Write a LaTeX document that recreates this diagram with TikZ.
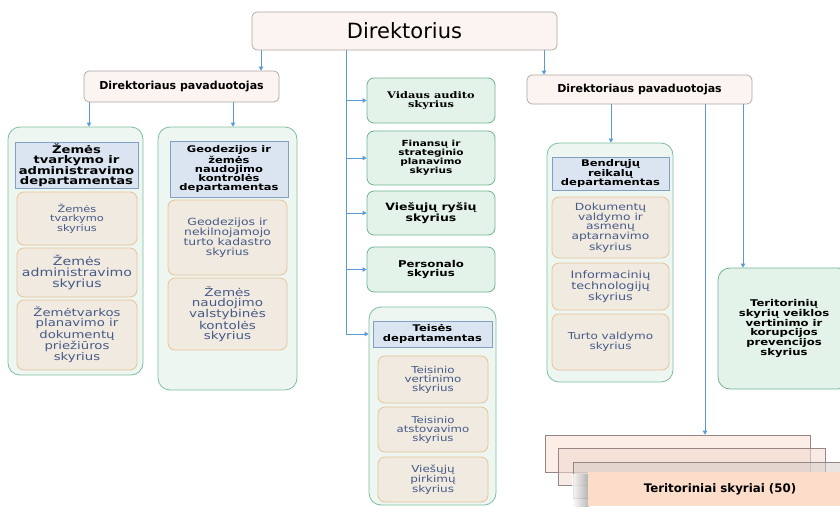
\documentclass[tikz,border=0pt]{standalone}
\usepackage{tikz}
\usetikzlibrary{arrows.meta}
\usepackage{xcolor}
\usepackage{fontspec}
\setmainfont{DejaVu Sans}
\newfontfamily\boxsans[FakeStretch=1.25]{DejaVu Sans}
\newfontfamily\boxserif[FakeStretch=1.25]{DejaVu Serif}
\newcommand{\boxsize}[2]{\fontsize{#1}{#2}\selectfont}
\definecolor{chieffill}{RGB}{252,244,240}
\definecolor{chiefdraw}{RGB}{175,165,165}
\definecolor{unitfill}{RGB}{228,243,234}
\definecolor{unitdraw}{RGB}{110,180,145}
\definecolor{deptfill}{RGB}{237,246,240}
\definecolor{deptdraw}{RGB}{125,190,160}
\definecolor{headfill}{RGB}{218,229,241}
\definecolor{headdraw}{RGB}{130,160,195}
\definecolor{secfill}{RGB}{241,234,224}
\definecolor{secdraw}{RGB}{230,195,150}
\definecolor{sectext}{RGB}{70,90,135}
\definecolor{arrowblue}{RGB}{91,155,213}
\definecolor{stkfillA}{RGB}{249,222,210}
\definecolor{stkfillB}{RGB}{243,216,205}
\definecolor{stkfillC}{RGB}{215,205,200}
\definecolor{stkdraw}{RGB}{150,135,135}
\definecolor{stkfront}{RGB}{251,221,201}

\begin{document}
\begin{tikzpicture}[x=1pt, y=-1pt,
  chief/.style={draw=chiefdraw, fill=chieffill, line width=0.7pt, rounded corners=5pt, inner sep=1pt},
  unit/.style={draw=unitdraw, fill=unitfill, line width=0.8pt, rounded corners=7pt, inner sep=1pt, align=center},
  dept/.style={draw=deptdraw, fill=deptfill, line width=0.8pt, rounded corners=12pt, inner sep=0pt},
  depthead/.style={draw=headdraw, fill=headfill, line width=0.8pt, inner sep=1pt, align=center},
  section/.style={draw=secdraw, fill=secfill, line width=0.8pt, rounded corners=7pt, inner sep=1pt, align=center, text=sectext},
  stack/.style={draw=stkdraw, line width=0.6pt, fill opacity=0.55, inner sep=0pt},
  arr/.style={draw=arrowblue, line width=0.8pt, -{Triangle[length=4pt,width=4.5pt]}}
]
  \clip (0,0) rectangle (840,506);

  % Vadovybe
  \node[chief, minimum width=305, minimum height=38, font=\boxsize{21}{24}] (dir) at (404.5,31) {Direktorius};
  \node[chief, minimum width=195, minimum height=31, font=\bfseries\boxsize{11}{13}] (pav1) at (181.5,86.5) {Direktoriaus pavaduotojas};
  \node[chief, minimum width=225, minimum height=29, font=\bfseries\boxsize{11}{13}] (pav2) at (639.5,89.5) {Direktoriaus pavaduotojas};

  % Skyriai prie direktoriaus
  \node[unit, minimum width=128, minimum height=45, font=\boxserif\bfseries\boxsize{9.1}{9}] (audit) at (431,100.5)
    {Vidaus audito\\skyrius};
  \node[unit, minimum width=128, minimum height=54, font=\boxsans\bfseries\boxsize{8.4}{8}] (fin) at (431,158)
    {Finansų ir\\strateginio\\planavimo\\skyrius};
  \node[unit, minimum width=128, minimum height=44, font=\boxsans\bfseries\boxsize{10}{9}] (rys) at (431,213)
    {Viešųjų ryšių\\skyrius};
  \node[unit, minimum width=128, minimum height=45, font=\boxsans\bfseries\boxsize{9.4}{9}] (pers) at (431,269.5)
    {Personalo\\skyrius};

  % Teises departamentas
  \node[dept, minimum width=127, minimum height=198] (teis) at (432.5,406) {};
  \node[depthead, minimum width=119, minimum height=26, font=\boxsans\bfseries\boxsize{9.2}{9.3}] (teisH) at (432.5,334)
    {Teisės\\departamentas};
  \node[section, minimum width=110, minimum height=47, font=\boxsans\boxsize{9.5}{9}] (teis1) at (433,379.5)
    {Teisinio\\vertinimo\\skyrius};
  \node[section, minimum width=110, minimum height=45, font=\boxsans\boxsize{9.4}{9}] (teis2) at (433,429.5)
    {Teisinio\\atstovavimo\\skyrius};
  \node[section, minimum width=110, minimum height=45, font=\boxsans\boxsize{9.6}{8.5}] (teis3) at (433,479.5)
    {Viešųjų\\pirkimų\\skyrius};

  % Zemes tvarkymo ir administravimo departamentas
  \node[dept, minimum width=135, minimum height=248] (zem) at (75.5,251) {};
  \node[depthead, minimum width=123, minimum height=46, font=\boxsans\bfseries\boxsize{10.5}{10}] (zemH) at (76.5,165)
    {Žemės\\tvarkymo ir\\administravimo\\departamentas};
  \node[section, minimum width=120, minimum height=53, font=\boxsans\boxsize{9.1}{9.5}] (zem1) at (77,218.5)
    {Žemės\\tvarkymo\\skyrius};
  \node[section, minimum width=120, minimum height=49, font=\boxsans\boxsize{11.3}{11}] (zem2) at (77,272.5)
    {Žemės\\administravimo\\skyrius};
  \node[section, minimum width=120, minimum height=70, font=\boxsans\boxsize{10.6}{10}] (zem3) at (77,335)
    {Žemėtvarkos\\planavimo ir\\dokumentų\\priežiūros\\skyrius};

  % Geodezijos ir zemes naudojimo kontroles departamentas
  \node[dept, minimum width=139, minimum height=263] (geo) at (227.5,258.5) {};
  \node[depthead, minimum width=118, minimum height=56, font=\boxsans\bfseries\boxsize{9.2}{9}] (geoH) at (229,169)
    {Geodezijos ir\\žemės\\naudojimo\\kontrolės\\departamentas};
  \node[section, minimum width=119, minimum height=75, font=\boxsans\boxsize{9.9}{10}] (geo1) at (227.5,237.5)
    {Geodezijos ir\\nekilnojamojo\\turto kadastro\\skyrius};
  \node[section, minimum width=119, minimum height=72, font=\boxsans\boxsize{10.8}{10}] (geo2) at (227.5,314)
    {Žemės\\naudojimo\\valstybinės\\kontolės\\skyrius};

  % Bendruju reikalu departamentas
  \node[dept, minimum width=126, minimum height=239] (bend) at (610,262.5) {};
  \node[depthead, minimum width=117, minimum height=33, font=\boxsans\bfseries\boxsize{9.2}{8.5}] (bendH) at (610.5,173.5)
    {Bendrųjų\\reikalų\\departamentas};
  \node[section, minimum width=117, minimum height=61, font=\boxsans\boxsize{9.8}{9.2}] (bend1) at (610.5,227.5)
    {Dokumentų\\valdymo ir\\asmenų\\aptarnavimo\\skyrius};
  \node[section, minimum width=117, minimum height=47, font=\boxsans\boxsize{10.2}{9}] (bend2) at (610.5,286.5)
    {Informacinių\\technologijų\\skyrius};
  \node[section, minimum width=117, minimum height=56, font=\boxsans\boxsize{9.6}{9}] (bend3) at (610.5,342)
    {Turto valdymo\\skyrius};

  % Teritoriniu skyriu vertinimas
  \node[unit, rounded corners=12pt, minimum width=132, minimum height=121, font=\boxsans\bfseries\boxsize{9.3}{8.5}] (ter) at (784,328.5)
    {Teritorinių\\skyrių veiklos\\vertinimo ir\\korupcijos\\prevencijos\\skyrius};

  % Teritoriniai skyriai (50)
  \node[stack, fill=stkfillA, minimum width=265, minimum height=37] (stkA) at (677.5,453.5) {};
  \node[stack, fill=stkfillB, minimum width=267, minimum height=37] (stkB) at (691.5,466.5) {};
  \node[stack, fill=stkfillC, minimum width=277, minimum height=36] (stkC) at (711.5,480) {};
  \shade[left color=white, right color=black!35, fill opacity=0.8] (572,474) rectangle (589,506);
  \node[fill=stkfront, inner sep=0pt, minimum width=264, minimum height=34, font=\bfseries\boxsize{11.8}{13}] (stkD) at (720,489)
    {Teritoriniai skyriai (50)};

  % Rodykles
  \draw[arr] (261,0 |- dir.south) -- (261,0 |- pav1.north);
  \draw[arr] (544,0 |- dir.south) -- (544,0 |- pav2.north);
  \draw[arr] (346,0 |- dir.south) |- (teis.west |- teisH.center);
  \foreach \n in {audit,fin,rys,pers}
    \draw[arr] (346,0 |- \n.west) -- (\n.west);
  \draw[arr] (89,0 |- pav1.south) -- (89,0 |- zem.north);
  \draw[arr] (233,0 |- pav1.south) -- (233,0 |- geo.north);
  \draw[arr] (611,0 |- pav2.south) -- (611,0 |- bend.north);
  \draw[arr] (705,0 |- pav2.south) -- (705,0 |- stkA.north);
  \draw[arr] (743,0 |- pav2.south) -- (743,0 |- ter.north);

\end{tikzpicture}
\end{document}
